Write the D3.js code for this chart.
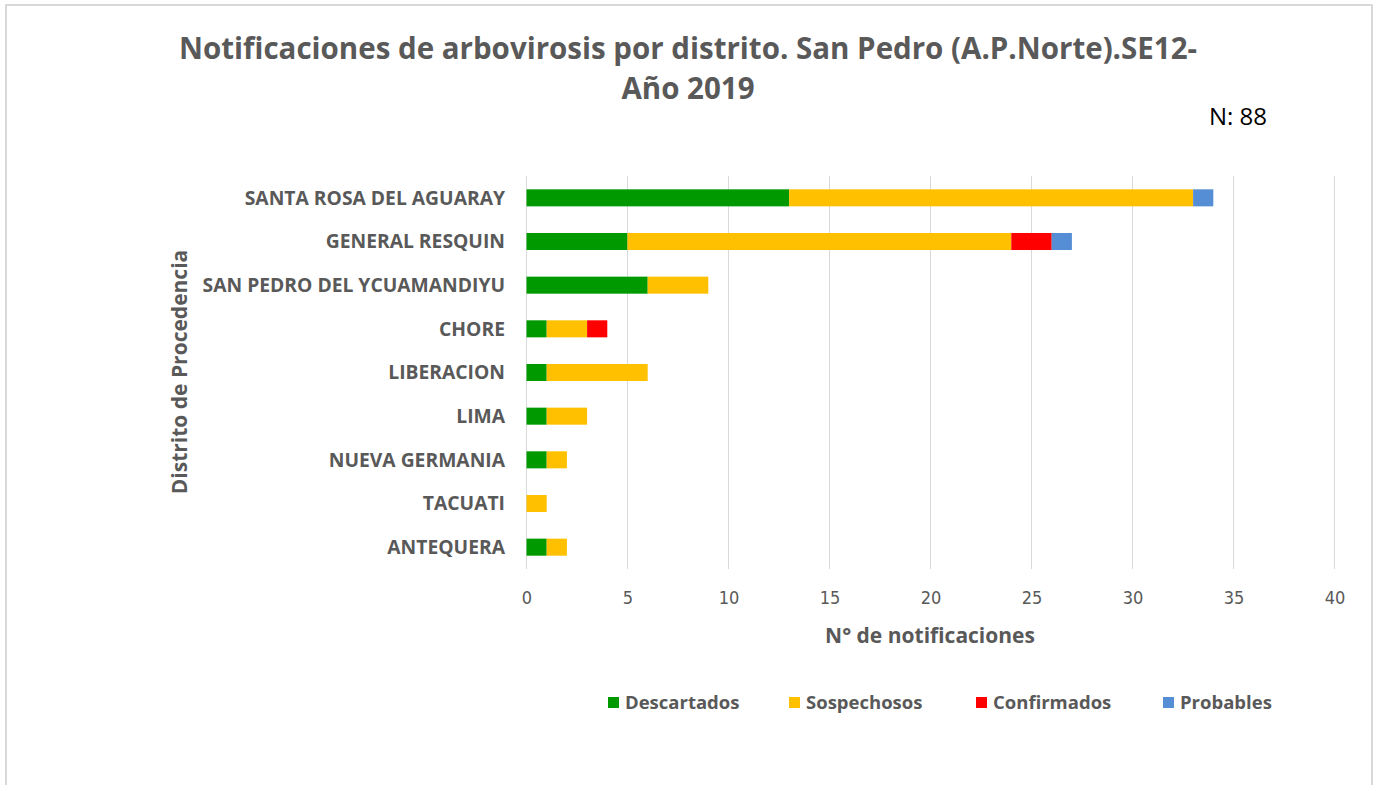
<html>
<head>
<style>
    body { margin: 0; background: #fff; }
    svg { display: block; font-family: "Open Sans", sans-serif; }
    .grid line { stroke: #d9d9d9; stroke-width: 1px; }
    .cat text { fill: #595959; font-family: "Open Sans", sans-serif; font-weight: bold; font-size: 19.3px; }
    .xtick text { fill: #595959; font-family: "Liberation Sans Narrow", "DejaVu Sans Condensed", sans-serif; font-size: 18px; }
</style>
<script src="https://cdnjs.cloudflare.com/ajax/libs/d3/7.8.5/d3.min.js"></script>
</head>
<body>
<script>
var width = 1378;
var height = 785;

var districts = ["SANTA ROSA DEL AGUARAY", "GENERAL RESQUIN", "SAN PEDRO DEL YCUAMANDIYU",
    "CHORE", "LIBERACION", "LIMA", "NUEVA GERMANIA", "TACUATI", "ANTEQUERA"];
var descartados = [13, 5, 6, 1, 1, 1, 1, 0, 1];
var sospechosos = [20, 19, 3, 2, 5, 2, 1, 1, 1];
var confirmados = [0, 2, 0, 1, 0, 0, 0, 0, 0];
var probables   = [1, 1, 0, 0, 0, 0, 0, 0, 0];
var seriesNames = ["Descartados", "Sospechosos", "Confirmados", "Probables"];
var colors = ["#009900", "#ffc000", "#ff0000", "#558ed5"];
var xTicks = [0, 5, 10, 15, 20, 25, 30, 35, 40];

var svg = d3.select("body").append("svg")
    .attr("width", width)
    .attr("height", height);

// chart frame
svg.append("path")
    .attr("d", "M6,785 V5 H1372 V785")
    .attr("fill", "none")
    .attr("stroke", "#d9d9d9")
    .attr("stroke-width", 2);

var x = d3.scaleLinear().domain([0, 40]).range([526.5, 1334.5]);
var y = d3.scaleBand().domain(districts).range([176, 569]).paddingInner(0.61).paddingOuter(0.305);

// gridlines
svg.append("g").attr("class", "grid")
    .selectAll("line")
    .data(xTicks)
    .enter().append("line")
    .attr("x1", d => x(d)).attr("x2", d => x(d))
    .attr("y1", 176).attr("y2", 569);

// x tick labels
svg.append("g").attr("class", "xtick")
    .attr("transform", "translate(0,604)")
    .call(d3.axisBottom(x).tickValues(xTicks).tickSize(0).tickPadding(0))
    .call(g => g.select(".domain").remove());

// category labels
svg.append("g").attr("class", "cat")
    .attr("transform", "translate(505,0)")
    .call(d3.axisLeft(y).tickSize(0).tickPadding(0))
    .call(g => g.select(".domain").remove());
svg.selectAll(".xtick text").attr("dy", null);
svg.selectAll(".cat text").attr("dy", "0.36em");

// stacked bars
var rows = districts.map((d, i) => ({
    district: d,
    Descartados: descartados[i],
    Sospechosos: sospechosos[i],
    Confirmados: confirmados[i],
    Probables: probables[i]
}));
var stack = d3.stack().keys(seriesNames)(rows);

svg.append("g")
    .selectAll("g")
    .data(stack)
    .enter().append("g")
    .attr("fill", (d, i) => colors[i])
    .selectAll("rect")
    .data(d => d.filter(p => p[1] > p[0]))
    .enter().append("rect")
    .attr("x", d => x(d[0]))
    .attr("width", d => x(d[1]) - x(d[0]))
    .attr("y", d => y(d.data.district))
    .attr("height", y.bandwidth());

// titles
var title = svg.append("text")
    .attr("text-anchor", "middle")
    .attr("fill", "#595959")
    .attr("font-weight", "bold")
    .attr("font-size", "29.5px");
title.append("tspan").attr("x", 688).attr("y", 59)
    .text("Notificaciones de arbovirosis por distrito. San Pedro (A.P.Norte).SE12-");
title.append("tspan").attr("x", 688).attr("y", 99).text("Año 2019");

svg.append("text")
    .attr("x", 1238).attr("y", 125)
    .attr("text-anchor", "middle")
    .attr("font-size", "24px")
    .attr("fill", "#000")
    .text("N: 88");

svg.append("text")
    .attr("x", 930).attr("y", 643)
    .attr("text-anchor", "middle")
    .attr("font-size", "21px")
    .attr("font-weight", "bold")
    .attr("fill", "#595959")
    .text("N° de notificaciones");

svg.append("text")
    .attr("transform", "translate(187,372) rotate(-90)")
    .attr("text-anchor", "middle")
    .attr("font-size", "21px")
    .attr("font-weight", "bold")
    .attr("fill", "#595959")
    .text("Distrito de Procedencia");

// legend
var legendX = [608, 789, 976, 1163];
var legend = svg.append("g")
    .selectAll("g")
    .data(seriesNames)
    .enter().append("g")
    .attr("transform", (d, i) => "translate(" + legendX[i] + ",702)");
legend.append("rect")
    .attr("x", 0).attr("y", -5)
    .attr("width", 11).attr("height", 11)
    .attr("fill", (d, i) => colors[i]);
legend.append("text")
    .attr("x", 17).attr("y", 0).attr("dy", "0.36em")
    .attr("font-size", "18.5px")
    .attr("font-weight", "bold")
    .attr("fill", "#595959")
    .text(d => d);
</script>
</body>
</html>
